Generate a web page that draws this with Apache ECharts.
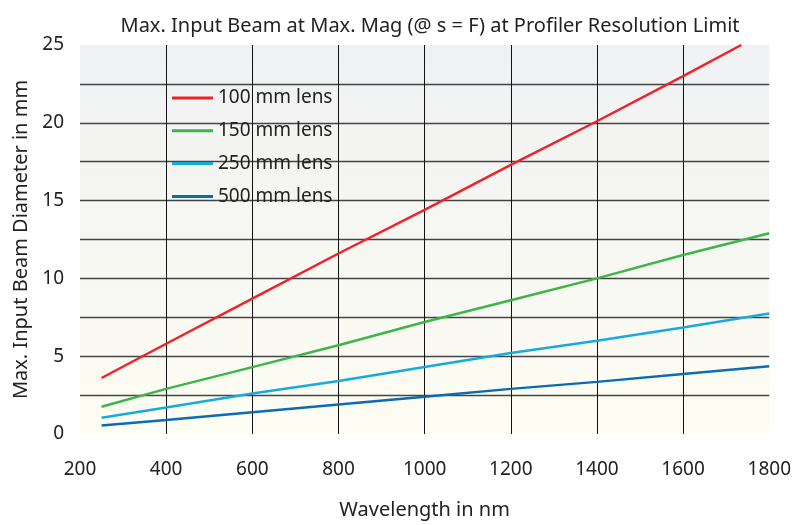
<!DOCTYPE html>
<html><head><meta charset="utf-8">
<script src="https://cdn.jsdelivr.net/npm/echarts@6/dist/echarts.min.js"></script>
<style>html,body{margin:0;padding:0;background:#fff}#c{width:794px;height:525px}</style>
</head><body><div id="c"></div>
<script>
var wavelengths = [250, 400, 600, 800, 1000, 1200, 1400, 1600, 1800];
var lens100 = [3.6, 5.8, 8.7, 11.6, 14.4, 17.3, 20.1, 23.0, null];
var lens100End = [1735, 25];
var lens150 = [1.75, 2.9, 4.3, 5.7, 7.2, 8.6, 10.0, 11.5, 12.9];
var lens250 = [1.05, 1.7, 2.6, 3.4, 4.3, 5.2, 6.0, 6.85, 7.75];
var lens500 = [0.55, 0.9, 1.4, 1.9, 2.4, 2.9, 3.35, 3.85, 4.35];
var seriesNames = ['100 mm lens', '150 mm lens', '250 mm lens', '500 mm lens'];
var colors = ['#ee2229', '#3db54a', '#18a9df', '#0b6bb5'];
var yTicks = [0, 5, 10, 15, 20, 25];

function pairs(vals) {
  var out = [];
  for (var i = 0; i < wavelengths.length; i++) if (vals[i] != null) out.push([wavelengths[i], vals[i]]);
  return out;
}
var d100 = pairs(lens100); d100.push(lens100End);
var datasets = [d100, pairs(lens150), pairs(lens250), pairs(lens500)];

var font = 'Noto Sans';
var chart = echarts.init(document.getElementById('c'));
chart.setOption({
  animation: false,
  title: {
    text: 'Max. Input Beam at Max. Mag (@ s = F) at Profiler Resolution Limit',
    left: 425, textAlign: 'center', top: 11,
    textStyle: { fontFamily: font, fontSize: 20, fontWeight: 'normal', color: '#222' }
  },
  legend: {
    orient: 'vertical', left: 167, top: 83, padding: 5,
    icon: 'rect', itemWidth: 41, itemHeight: 3, itemGap: 12.8,
    textStyle: { fontFamily: font, fontSize: 19, lineHeight: 20, color: '#222' },
    data: seriesNames
  },
  grid: {
    left: 80, right: 23, top: 45, bottom: 84, show: true, borderWidth: 0,
    backgroundColor: new echarts.graphic.LinearGradient(0, 0, 0, 1, [
      { offset: 0, color: '#f0f1f3' }, { offset: 1, color: '#fdfdf2' }
    ])
  },
  xAxis: {
    type: 'value', min: 200, max: 1800, interval: 200,
    name: 'Wavelength in nm', nameLocation: 'middle', nameGap: 66,
    nameTextStyle: { fontFamily: font, fontSize: 20, color: '#222' },
    axisLine: { show: false }, axisTick: { show: false },
    axisLabel: { fontFamily: font, fontSize: 19, color: '#222', margin: 26,
      formatter: function (v) { return String(v); } },
    splitLine: { show: true, showMinLine: false, showMaxLine: false, lineStyle: { color: '#111', width: 1 } }
  },
  yAxis: {
    type: 'value', min: 0, max: 25, interval: 2.5,
    name: 'Max. Input Beam Diameter in mm', nameLocation: 'middle', nameGap: 45,
    nameTextStyle: { fontFamily: font, fontSize: 20, color: '#222' },
    axisLine: { show: false }, axisTick: { show: false },
    axisLabel: { fontFamily: font, fontSize: 19, color: '#222', margin: 16,
      formatter: function (v) { return yTicks.indexOf(v) >= 0 ? String(v) : ''; } },
    splitLine: { show: true, showMinLine: false, showMaxLine: false, lineStyle: { color: '#444', width: 1.3 } }
  },
  series: seriesNames.map(function (n, i) {
    return { name: n, type: 'line', data: datasets[i], symbol: 'none', color: colors[i],
      lineStyle: { width: 2.5, color: colors[i] }, z: 3 };
  })
});
</script></body></html>
